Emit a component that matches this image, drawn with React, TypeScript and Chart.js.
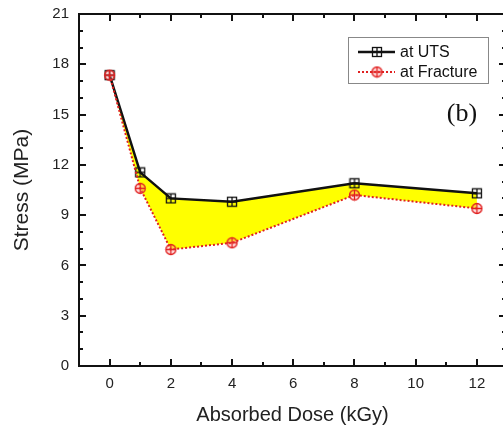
import React, { useEffect, useRef } from "react";
import { Chart, registerables } from "chart.js";

Chart.register(...registerables);

const doses = [0, 1, 2, 4, 8, 12];
const stressUTS = [17.35, 11.55, 10.0, 9.8, 10.9, 10.3];
const stressFracture = [17.35, 10.6, 6.95, 7.35, 10.2, 9.4];
const xTickValues = [0, 2, 4, 6, 8, 10, 12];
const yTickValues = [0, 3, 6, 9, 12, 15, 18, 21];
const seriesLabels = ["at UTS", "at Fracture"];
const xTitle = "Absorbed Dose (kGy)";
const yTitle = "Stress (MPa)";
const panelLabel = "(b)";

const SANS = "'Liberation Sans', Arial, sans-serif";
const SERIF = "'Liberation Serif', 'Times New Roman', serif";
const RED = "#e02020";

function makeSquare(): HTMLCanvasElement {
  const c = document.createElement("canvas");
  c.width = 12;
  c.height = 12;
  const g = c.getContext("2d")!;
  g.strokeStyle = "#111";
  g.lineWidth = 1.3;
  g.strokeRect(1.5, 1.5, 9, 9);
  g.beginPath();
  g.moveTo(6, 1.5);
  g.lineTo(6, 10.5);
  g.moveTo(1.5, 6);
  g.lineTo(10.5, 6);
  g.stroke();
  return c;
}

function makeCircle(): HTMLCanvasElement {
  const c = document.createElement("canvas");
  c.width = 13;
  c.height = 13;
  const g = c.getContext("2d")!;
  g.fillStyle = "rgba(255,160,160,0.35)";
  g.strokeStyle = RED;
  g.lineWidth = 1.3;
  g.beginPath();
  g.arc(6.5, 6.5, 5, 0, Math.PI * 2);
  g.fill();
  g.stroke();
  g.beginPath();
  g.moveTo(6.5, 1.5);
  g.lineTo(6.5, 11.5);
  g.moveTo(1.5, 6.5);
  g.lineTo(11.5, 6.5);
  g.stroke();
  return c;
}

export default function App() {
  const ref = useRef<HTMLCanvasElement | null>(null);

  useEffect(() => {
    if (!ref.current) return;
    const sq = makeSquare();
    const ci = makeCircle();

    const framePlugin = {
      id: "frame",
      afterDraw(chart: any) {
        const { ctx, chartArea: a, scales } = chart;
        const xs = scales.x;
        const ys = scales.y;
        ctx.save();
        ctx.strokeStyle = "#111";
        ctx.lineWidth = 2;
        ctx.strokeRect(a.left, a.top, a.right - a.left, a.bottom - a.top);
        ctx.beginPath();
        for (let v = Math.ceil(xs.min); v <= xs.max; v++) {
          if (v === xs.min || v === xs.max) continue;
          const len = xTickValues.includes(v) ? 7 : 4;
          const px = Math.round(xs.getPixelForValue(v));
          ctx.moveTo(px, a.bottom);
          ctx.lineTo(px, a.bottom - len);
          ctx.moveTo(px, a.top);
          ctx.lineTo(px, a.top + len);
        }
        for (let v = Math.ceil(ys.min); v <= ys.max; v++) {
          if (v === ys.min || v === ys.max) continue;
          const len = yTickValues.includes(v) ? 7 : 4;
          const py = Math.round(ys.getPixelForValue(v));
          ctx.moveTo(a.left, py);
          ctx.lineTo(a.left + len, py);
          ctx.moveTo(a.right, py);
          ctx.lineTo(a.right - len, py);
        }
        ctx.stroke();

        // legend
        const bx = 348, by = 37, bw = 140, bh = 46;
        ctx.fillStyle = "#fff";
        ctx.fillRect(bx, by, bw, bh);
        ctx.strokeStyle = "#888";
        ctx.lineWidth = 1;
        ctx.strokeRect(bx + 0.5, by + 0.5, bw, bh);
        const rows = [by + 15, by + 35];
        ctx.strokeStyle = "#111";
        ctx.lineWidth = 2.5;
        ctx.setLineDash([]);
        ctx.beginPath();
        ctx.moveTo(358, rows[0]);
        ctx.lineTo(395, rows[0]);
        ctx.stroke();
        ctx.drawImage(sq, 377 - 6, rows[0] - 6);
        ctx.strokeStyle = RED;
        ctx.lineWidth = 2;
        ctx.setLineDash([2, 2]);
        ctx.beginPath();
        ctx.moveTo(358, rows[1]);
        ctx.lineTo(395, rows[1]);
        ctx.stroke();
        ctx.setLineDash([]);
        ctx.drawImage(ci, 377 - 6.5, rows[1] - 6.5);
        ctx.fillStyle = "#111";
        ctx.font = `16px ${SANS}`;
        ctx.textAlign = "left";
        ctx.textBaseline = "middle";
        ctx.fillText(seriesLabels[0], 400, rows[0] + 1);
        ctx.fillText(seriesLabels[1], 400, rows[1] + 1);

        ctx.font = `26px ${SERIF}`;
        ctx.textAlign = "center";
        ctx.fillText(panelLabel, 462, 114);
        ctx.restore();
      },
    };

    const chart = new Chart(ref.current, {
      type: "line",
      data: {
        datasets: [
          {
            label: seriesLabels[0],
            data: doses.map((d, i) => ({ x: d, y: stressUTS[i] })),
            borderColor: "#111",
            borderWidth: 2.5,
            pointStyle: sq as any,
            pointRadius: 5,
            fill: "+1",
            backgroundColor: "#ffff00",
            tension: 0,
            order: 1,
          },
          {
            label: seriesLabels[1],
            data: doses.map((d, i) => ({ x: d, y: stressFracture[i] })),
            borderColor: RED,
            borderWidth: 2,
            borderDash: [2, 2],
            pointStyle: ci as any,
            pointRadius: 5,
            fill: false,
            backgroundColor: RED,
            tension: 0,
            order: 0,
          },
        ],
      },
      options: {
        responsive: false,
        animation: false,
        layout: { padding: { top: 14, right: 8, left: 0, bottom: 0 } },
        plugins: {
          legend: { display: false },
          tooltip: { enabled: false },
        },
        scales: {
          x: {
            type: "linear",
            min: -1,
            max: 12.95,
            grid: { display: false, drawTicks: false },
            border: { display: false },
            afterBuildTicks: (s: any) => {
              s.ticks = xTickValues.map((v) => ({ value: v }));
            },
            afterFit: (s: any) => {
              s.height = 62;
              s.paddingLeft = 0;
              s.paddingRight = 0;
            },
            ticks: {
              padding: 9,
              color: "#222",
              font: { family: SANS, size: 15 },
              maxRotation: 0,
              autoSkip: false,
            },
            title: {
              display: true,
              text: xTitle,
              color: "#222",
              font: { family: SANS, size: 20 },
              padding: { top: 0, bottom: 1 },
            },
          },
          y: {
            type: "linear",
            min: 0,
            max: 21,
            grid: { display: false, drawTicks: false },
            border: { display: false },
            afterBuildTicks: (s: any) => {
              s.ticks = yTickValues.map((v) => ({ value: v }));
            },
            afterFit: (s: any) => {
              s.width = 79;
              s.paddingTop = 0;
              s.paddingBottom = 0;
            },
            ticks: {
              padding: 10,
              color: "#222",
              font: { family: SANS, size: 15 },
              autoSkip: false,
            },
            title: {
              display: true,
              text: yTitle,
              color: "#222",
              font: { family: SANS, size: 21 },
              padding: { top: 10, bottom: 0 },
            },
          },
        },
      },
      plugins: [framePlugin],
    } as any);

    return () => chart.destroy();
  }, []);

  return (
    <div
      style={{
        position: "fixed",
        left: 0,
        top: 0,
        width: 503,
        height: 428,
        overflow: "hidden",
        background: "#fff",
      }}
    >
      <canvas ref={ref} width={514} height={428} style={{ display: "block", width: 514, height: 428 }} />
    </div>
  );
}
